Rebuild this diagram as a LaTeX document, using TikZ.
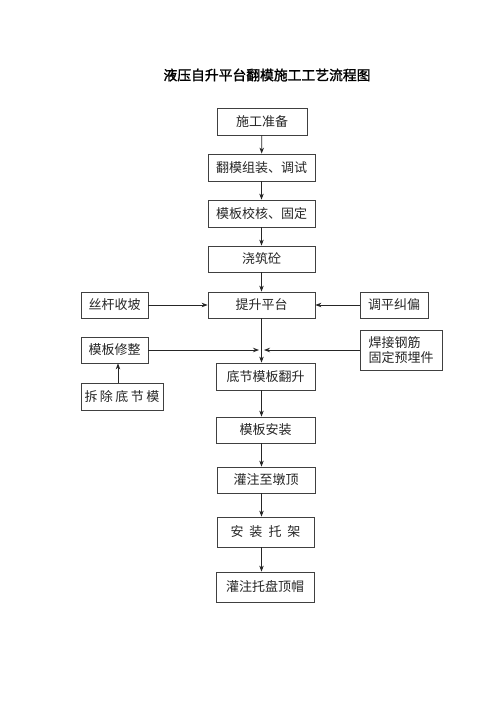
\documentclass[tikz,border=0pt]{standalone}
\usepackage{fontspec}
\setmainfont{Noto Sans CJK SC}
\newfontfamily\cjkbold[FakeBold=1.5]{Noto Sans CJK SC}
\usetikzlibrary{arrows.meta}
\tikzset{
  box/.style={draw=black!75, line width=0.8pt, minimum height=26pt, inner sep=0pt, font=\fontsize{13}{15.5}\selectfont, text=black!85},
  arr/.style={draw=black!85, line width=0.8pt, -{Stealth[length=6pt,width=4.5pt]}},
}
\begin{document}
\begin{tikzpicture}[x=1pt,y=-1pt]
\useasboundingbox[fill=white] (0,0) rectangle (500,707);
\node[font=\cjkbold\fontsize{13.8}{16}\selectfont] (title) at (267,75) {液压自升平台翻模施工工艺流程图};
\node[box, minimum width=90pt, minimum height=27pt] (n1) at (262,121.5) {施工准备};
\node[box, minimum width=107pt, minimum height=27pt] (n2) at (261.5,167.5) {翻模组装、调试};
\node[box, minimum width=107pt, minimum height=27pt] (n3) at (261.5,213.5) {模板校核、固定};
\node[box, minimum width=107pt] (n4) at (261.5,259) {浇筑砼};
\node[box, minimum width=107pt] (n5) at (261.5,305) {提升平台};
\node[box, minimum width=67pt] (l1) at (114.5,305) {丝杆收坡};
\node[box, minimum width=68pt] (r1) at (394,305) {调平纠偏};
\node[box, minimum width=67pt] (l2) at (114.5,350) {模板修整};
\node[box, minimum width=82pt, minimum height=40pt, align=left] (r2) at (401,350) {焊接钢筋\\固定预埋件};
\node[box, minimum width=82pt, minimum height=27pt] (l3) at (122,396.5) {拆\hspace{2.5pt}除\hspace{2.5pt}底\hspace{2.5pt}节\hspace{2.5pt}模};
\node[box, minimum width=99pt, minimum height=27pt] (n6) at (265.5,376.5) {底节模板翻升};
\node[box, minimum width=99pt] (n7) at (265.5,430) {模板安装};
\node[box, minimum width=98pt] (n8) at (266,480) {灌注至墩顶};
\node[box, minimum width=97pt, minimum height=30pt] (n9) at (265.5,532) {安\hspace{6pt}装\hspace{6pt}托\hspace{6pt}架};
\node[box, minimum width=98pt, minimum height=30pt] (n10) at (265,587) {灌注托盘顶帽};
\coordinate (ml) at (259,350);
\coordinate (mr) at (264,350);
\draw[arr] (n1) -- (n2);
\draw[arr] (n2) -- (n3);
\draw[arr] (n3) -- (n4);
\draw[arr] (n4) -- (n5);
\draw[arr] (l1) -- (n5);
\draw[arr] (r1) -- (n5);
\draw[arr] (n5.south) -- (n6.north -| n5.south);
\draw[arr] (l2) -- (ml);
\draw[arr] (r2) -- (mr);
\draw[arr] (l3.north -| 118,0) -- (l2.south -| 118,0);
\draw[arr] (n6.south -| n5.south) -- (n7.north -| n5.south);
\draw[arr] (n7.south -| n5.south) -- (n8.north -| n5.south);
\draw[arr] (n8.south -| n5.south) -- (n9.north -| n5.south);
\draw[arr] (n9.south -| n5.south) -- (n10.north -| n5.south);
\end{tikzpicture}
\end{document}
